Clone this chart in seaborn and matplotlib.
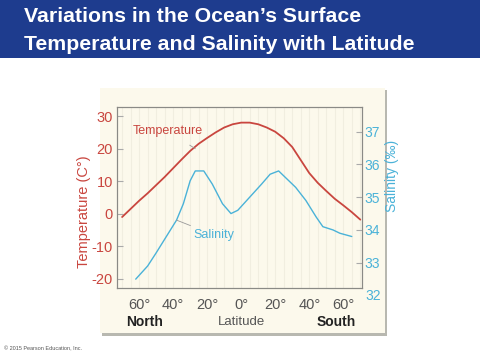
import numpy as np
import pandas as pd
import seaborn as sns
import matplotlib.pyplot as plt
from matplotlib.patches import Rectangle

# latitude: negative = North, positive = South
temp_lat = [-70, -65, -60, -55, -50, -45, -40, -35, -30, -25, -20, -15, -10, -5, 0, 5, 10,
            15, 20, 25, 30, 35, 40, 45, 50, 55, 60, 65, 70]
temp_c = [-1, 1.5, 4, 6.3, 8.8, 11.3, 14, 16.7, 19.3, 21.5, 23.3, 25, 26.5, 27.5, 28, 28, 27.5,
          26.5, 25.2, 23.2, 20.5, 16.5, 12.5, 9.5, 7, 4.6, 2.6, 0.5, -1.8]

sal_lat = [-62, -55, -50, -44, -38, -34, -30, -27, -22, -17, -11, -6, -2, 5, 12, 17, 22, 26, 32, 38, 44, 48, 54, 58, 65]
salinity = [32.5, 32.9, 33.3, 33.8, 34.3, 34.8, 35.5, 35.8, 35.8, 35.4, 34.8, 34.5, 34.6, 35.0,
            35.4, 35.7, 35.8, 35.6, 35.3, 34.9, 34.4, 34.1, 34.0, 33.9, 33.8]

xticks = [-60, -40, -20, 0, 20, 40, 60]
xlabels = ["60°", "40°", "20°", "0°", "20°", "40°", "60°"]
temp_ticks = [-20, -10, 0, 10, 20, 30]
sal_ticks = [33, 34, 35, 36, 37]

temp_df = pd.DataFrame({"lat": temp_lat, "temp": temp_c})
sal_df = pd.DataFrame({"lat": sal_lat, "sal": salinity})

sns.set_style("white")
plt.rcParams["font.family"] = ["Liberation Sans", "DejaVu Sans"]

red = "#c9463f"
blue = "#4ab2d8"
cream = "#fcf9ec"

fig = plt.figure(figsize=(4.8, 3.6), dpi=100)
fig.patch.set_facecolor("white")

# header band and chart panel
fig.patches.append(Rectangle((0, 1 - 58 / 360), 1, 58 / 360, transform=fig.transFigure,
                             facecolor="#1e3c8e", edgecolor="none", zorder=-10))
fig.patches.append(Rectangle((102 / 480, 1 - 336 / 360), 285 / 480, 246 / 360, transform=fig.transFigure,
                             facecolor="#b8b8b0", edgecolor="none", zorder=-10))
fig.patches.append(Rectangle((100 / 480, 1 - 333 / 360), 285 / 480, 245 / 360, transform=fig.transFigure,
                             facecolor=cream, edgecolor="none", zorder=-9))

fig.text(24 / 480, 1 - 17 / 360, "Variations in the Ocean\u2019s Surface", color="white",
         fontsize=15.3, fontweight="bold", va="center", ha="left")
fig.text(24 / 480, 1 - 44 / 360, "Temperature and Salinity with Latitude", color="white",
         fontsize=15.3, fontweight="bold", va="center", ha="left")
fig.text(4 / 480, 1 - 349 / 360, "\u00a9 2015 Pearson Education, Inc.", color="#555555",
         fontsize=4, va="center", ha="left")

ax = fig.add_axes([117 / 480, 1 - 288 / 360, 245 / 480, 181 / 360])
ax.set_facecolor(cream)
ax2 = ax.twinx()

for x in range(-70, 75, 5):
    ax.axvline(x, color="#f1eee0", lw=0.8, zorder=0)

sns.lineplot(data=temp_df, x="lat", y="temp", ax=ax, color=red, lw=1.3)
sns.lineplot(data=sal_df, x="lat", y="sal", ax=ax2, color=blue, lw=1.0)

ax.set_xlim(-73, 71)
ax.set_ylim(-22.8, 32.8)
ax2.set_ylim(32.23, 37.75)

ax.set_xticks(xticks)
ax.set_xticklabels(xlabels, color="#555555", fontsize=10.5)
ax.set_yticks(temp_ticks)
ax.set_yticklabels([str(t) for t in temp_ticks], color=red, fontsize=10.5)
ax2.set_yticks(sal_ticks)
ax2.set_yticklabels([str(t) for t in sal_ticks], color=blue, fontsize=10)
ax2.text(1.012, 32, "32", color=blue, fontsize=10, va="center", ha="left",
         transform=ax2.get_yaxis_transform(), clip_on=False)

ax.tick_params(axis="y", direction="in", length=4, color="#aaaaaa", pad=3)
ax.tick_params(axis="x", direction="out", length=3, color="#aaaaaa", pad=4.5)
ax2.tick_params(axis="y", direction="in", length=4, color="#aaaaaa", pad=2)

ax.set_xlabel("")
ax.set_ylabel("Temperature (C°)", color=red, fontsize=10.5)
ax.yaxis.set_label_coords(-0.105, 0.42)
ax2.set_ylabel("Salinity (‰)", color=blue, fontsize=10)
ax2.yaxis.set_label_coords(1.095, 0.62)

for a in (ax, ax2):
    for s in a.spines.values():
        s.set_color("#8a8a86")
        s.set_linewidth(0.8)

ax.text(0, -0.19, "Latitude", transform=ax.get_xaxis_transform(), ha="center", va="center",
        fontsize=9.5, color="#555555")
ax.text(-57, -0.19, "North", transform=ax.get_xaxis_transform(), ha="center", va="center",
        fontsize=10, fontweight="bold", color="#222222")
ax.text(56, -0.19, "South", transform=ax.get_xaxis_transform(), ha="center", va="center",
        fontsize=10, fontweight="bold", color="#222222")

ax.annotate("Temperature", xy=(-27, 20), xytext=(-43, 25.3), color=red, fontsize=9,
            ha="center", va="center",
            arrowprops=dict(arrowstyle="-", color="#999999", lw=0.6, shrinkA=6, shrinkB=0))
ax2.annotate("Salinity", xy=(-38, 34.3), xytext=(-16, 33.85), color=blue, fontsize=9,
             ha="center", va="center",
             arrowprops=dict(arrowstyle="-", color="#999999", lw=0.6, shrinkA=14, shrinkB=0))

fig.savefig("out.png", dpi=100)
